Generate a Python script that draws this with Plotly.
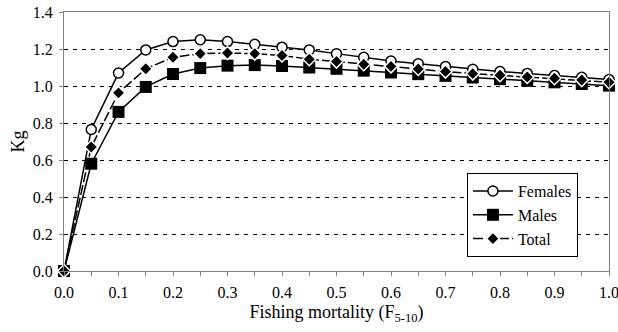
import plotly.graph_objects as go

f_vals = [0.0, 0.05, 0.1, 0.15, 0.2, 0.25, 0.3, 0.35, 0.4, 0.45, 0.5,
          0.55, 0.6, 0.65, 0.7, 0.75, 0.8, 0.85, 0.9, 0.95, 1.0]
females = [0.0, 0.765, 1.07, 1.195, 1.24, 1.25, 1.24, 1.225, 1.21, 1.195, 1.175,
           1.155, 1.135, 1.12, 1.105, 1.09, 1.078, 1.068, 1.057, 1.047, 1.035]
males = [0.0, 0.58, 0.86, 0.995, 1.065, 1.097, 1.11, 1.113, 1.108, 1.1, 1.093,
         1.083, 1.073, 1.064, 1.055, 1.046, 1.037, 1.028, 1.02, 1.011, 1.002]
total = [0.0, 0.67, 0.963, 1.093, 1.155, 1.175, 1.178, 1.175, 1.165, 1.145, 1.132,
         1.118, 1.106, 1.092, 1.078, 1.067, 1.058, 1.049, 1.042, 1.032, 1.02]
x_ticks = [0.0, 0.1, 0.2, 0.3, 0.4, 0.5, 0.6, 0.7, 0.8, 0.9, 1.0]
x_minor = [0.05, 0.15, 0.25, 0.35, 0.45, 0.55, 0.65, 0.75, 0.85, 0.95]
y_ticks = [0.0, 0.2, 0.4, 0.6, 0.8, 1.0, 1.2, 1.4]

FONT = "Liberation Serif"
GRAY = "#808080"

fig = go.Figure()
fig.add_trace(go.Scatter(
    x=f_vals, y=females, name="Females", mode="lines+markers", legendgroup="f",
    line=dict(color="black", width=1.5),
    marker=dict(symbol="circle", size=10, color="white", line=dict(color="black", width=1.5)),
    cliponaxis=False))
fig.add_trace(go.Scatter(
    x=f_vals, y=males, name="Males", mode="lines+markers", legendgroup="m",
    line=dict(color="black", width=1.5),
    marker=dict(symbol="square", size=12, color="black", line=dict(color="black", width=0)),
    cliponaxis=False))
fig.add_trace(go.Scatter(
    x=f_vals, y=total, name="Total", mode="lines+markers", legendgroup="t",
    line=dict(color="black", width=1.5, dash="10px,3px"),
    marker=dict(symbol="diamond", size=10, color="black", line=dict(color="white", width=1.5)),
    cliponaxis=False))

fig.update_layout(
    width=618, height=332,
    margin=dict(l=64, r=9, t=12, b=61, autoexpand=False),
    paper_bgcolor="white", plot_bgcolor="white",
    font=dict(family=FONT, size=16, color="black"),
    showlegend=True,
    legend=dict(
        x=0.943, y=0.378, xanchor="right", yanchor="top",
        bgcolor="white", bordercolor="black", borderwidth=1,
        font=dict(family=FONT, size=16, color="black"),
        tracegroupgap=0, itemwidth=40,
    ),
    xaxis=dict(
        range=[0, 1], tickmode="array", tickvals=x_ticks,
        ticktext=[f"{v:.1f}" for v in x_ticks], ticklabeloverflow="allow",
        showline=True, linecolor=GRAY, linewidth=1, mirror=True,
        ticks="outside", ticklen=4, tickcolor=GRAY, ticklabelstandoff=3,
        minor=dict(tickmode="array", tickvals=x_minor, ticks="outside", ticklen=4, tickcolor=GRAY),
        showgrid=False, zeroline=False,
        title=dict(text="Fishing mortality (F<sub>5-10</sub>)", standoff=5,
                   font=dict(family=FONT, size=18)),
        tickfont=dict(family=FONT, size=16),
    ),
    xaxis2=dict(
        overlaying="x", range=[0, 1], tickmode="array", tickvals=x_ticks + x_minor,
        ticks="inside", ticklen=4, tickcolor=GRAY, showticklabels=False,
        showline=False, showgrid=False, zeroline=False, side="bottom",
    ),
    yaxis=dict(
        range=[0, 1.4], tickmode="array", tickvals=y_ticks,
        ticktext=[f"{v:.1f}" for v in y_ticks],
        showline=True, linecolor=GRAY, linewidth=1, mirror=True,
        ticks="outside", ticklen=4, tickcolor=GRAY, ticklabelstandoff=3,
        showgrid=True, gridcolor="black", gridwidth=1, griddash="4px,5px",
        zeroline=False,
        title=dict(text="Kg", standoff=3, font=dict(family=FONT, size=18)),
        tickfont=dict(family=FONT, size=16),
    ),
)

fig.write_html("out.html", config={"displayModeBar": False},
               post_script="document.body.style.margin='0';")
